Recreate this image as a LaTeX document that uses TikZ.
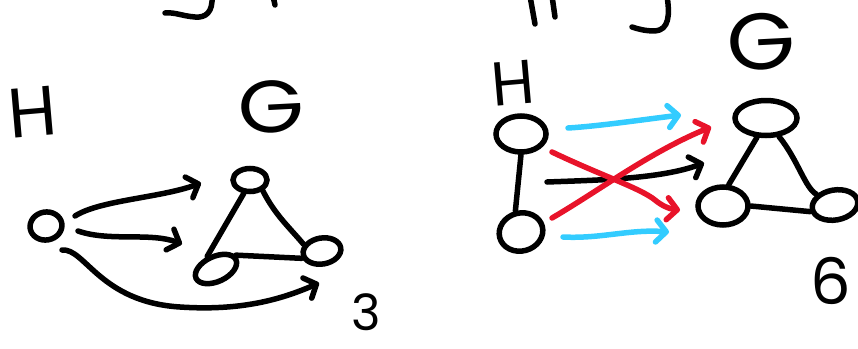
\documentclass[tikz,border=0pt]{standalone}
\usepackage{fontspec}
\setmainfont{Poppins}
\usetikzlibrary{arrows.meta,shapes.geometric}
\definecolor{sky}{HTML}{33CCFF}
\definecolor{crimson}{HTML}{E8132A}
\begin{document}
\begin{tikzpicture}[x=1pt,y=-1pt,
  ink/.style={line width=5.5pt,line cap=round,line join=round},
  vtx/.style={ellipse,draw,line width=5.5pt,inner sep=0pt},
  arr/.style={ink,-{Straight Barb[length=10pt,width=22pt,line cap=round,line join=round]}},
  lbl/.style={inner sep=0pt}]
\useasboundingbox (0,0) rectangle (858,348);

% strokes of the heading, cut off by the top edge
\draw[ink] (212,-4) .. controls (213,12) and (206,18) .. (195,17)
           .. controls (182,16) and (175,12) .. (165,13);
\draw[ink] (273,-4) -- (275,5);
\draw[ink] (530,-4) -- (535,24);
\draw[ink] (552,-4) -- (555,17);
\draw[ink] (667,-4) .. controls (670,15) and (669,30) .. (655,31)
           .. controls (645,31) and (638,29) .. (632,27);

% ---------- left: H is a single vertex, G a triangle ----------
\node[lbl,rotate=5] (labHL) at (33,112) {\fontsize{70}{70}\selectfont H};
\node[lbl,rotate=3,xscale=1.15] (labGL) at (271,107) {\fontsize{74}{74}\selectfont G};

\node[vtx,minimum width=32pt,minimum height=28pt,rotate=10] (hL) at (46,226) {};
\node[vtx,minimum width=34pt,minimum height=23pt] (gT) at (250,180) {};
\node[vtx,minimum width=44pt,minimum height=25pt,rotate=25] (gBL) at (216,269) {};
\node[vtx,minimum width=38pt,minimum height=26pt,rotate=10] (gBR) at (322,251) {};

\draw[ink] (gT.-115) -- (gBL.100);
\draw[ink] (gT.-40) .. controls (275,215) and (290,228) .. (gBR.150);
\draw[ink] (gBL.10) -- (gBR.190);

\coordinate (a1s) at (75,216);
\coordinate (a1e) at (201,183);
\coordinate (a2s) at (78,231);
\coordinate (a2e) at (182,244);
\coordinate (a3s) at (62,250);
\coordinate (a3e) at (319,283);
\draw[arr] (a1s) .. controls (100,200) and (160,198) .. (a1e);
\draw[arr] (a2s) .. controls (110,242) and (150,232) .. (a2e);
\draw[arr] (a3s) .. controls (85,248) and (100,302) .. (180,307)
           .. controls (240,311) and (280,300) .. (a3e);

\node[lbl] (three) at (366,312) {\fontsize{50}{50}\selectfont 3};

% ---------- right: H is an edge, G a triangle ----------
\node[lbl,rotate=5] (labHR) at (513,83) {\fontsize{62}{62}\selectfont H};
\node[lbl,rotate=3,xscale=1.1] (labGR) at (761,42) {\fontsize{80}{80}\selectfont G};

\node[vtx,minimum width=50pt,minimum height=36pt] (hT) at (521,134) {};
\node[vtx,minimum width=44pt,minimum height=38pt,rotate=15] (hB) at (521,232) {};
\node[vtx,minimum width=62pt,minimum height=35pt] (GT) at (766,118) {};
\node[vtx,minimum width=50pt,minimum height=38pt] (GBL) at (723,206) {};
\node[vtx,minimum width=46pt,minimum height=30pt,rotate=10] (GBR) at (835,205) {};

\draw[ink] (hT.south) -- (hB.north);
\draw[ink] (GT.-115) -- (GBL.75);
\draw[ink] (GT.-55) .. controls (798,160) and (805,188) .. (GBR.140);
\draw[ink] (GBL.east) -- (GBR.185);

\coordinate (c1s) at (568,128);
\coordinate (c1e) at (681,115);
\coordinate (c2s) at (563,237);
\coordinate (c2e) at (669,232);
\coordinate (bks) at (547,182);
\coordinate (bke) at (704,163);
\coordinate (r1s) at (552,152);
\coordinate (r1e) at (680,210);
\coordinate (r2s) at (552,218);
\coordinate (r2e) at (711,127);

\draw[arr,sky] (c1s) .. controls (600,126) and (640,120) .. (c1e);
\draw[arr,sky] (c2s) .. controls (600,239) and (630,229) .. (c2e);
\draw[arr] (bks) .. controls (600,180) and (660,179) .. (bke);
\draw[arr,crimson] (r1s) .. controls (600,175) and (640,188) .. (655,200)
           .. controls (662,206) and (670,209) .. (r1e);
\draw[arr,crimson] (r2s) .. controls (600,190) and (650,152) .. (r2e);

\node[lbl] (six) at (831,281) {\fontsize{64}{64}\selectfont 6};
\end{tikzpicture}
\end{document}
